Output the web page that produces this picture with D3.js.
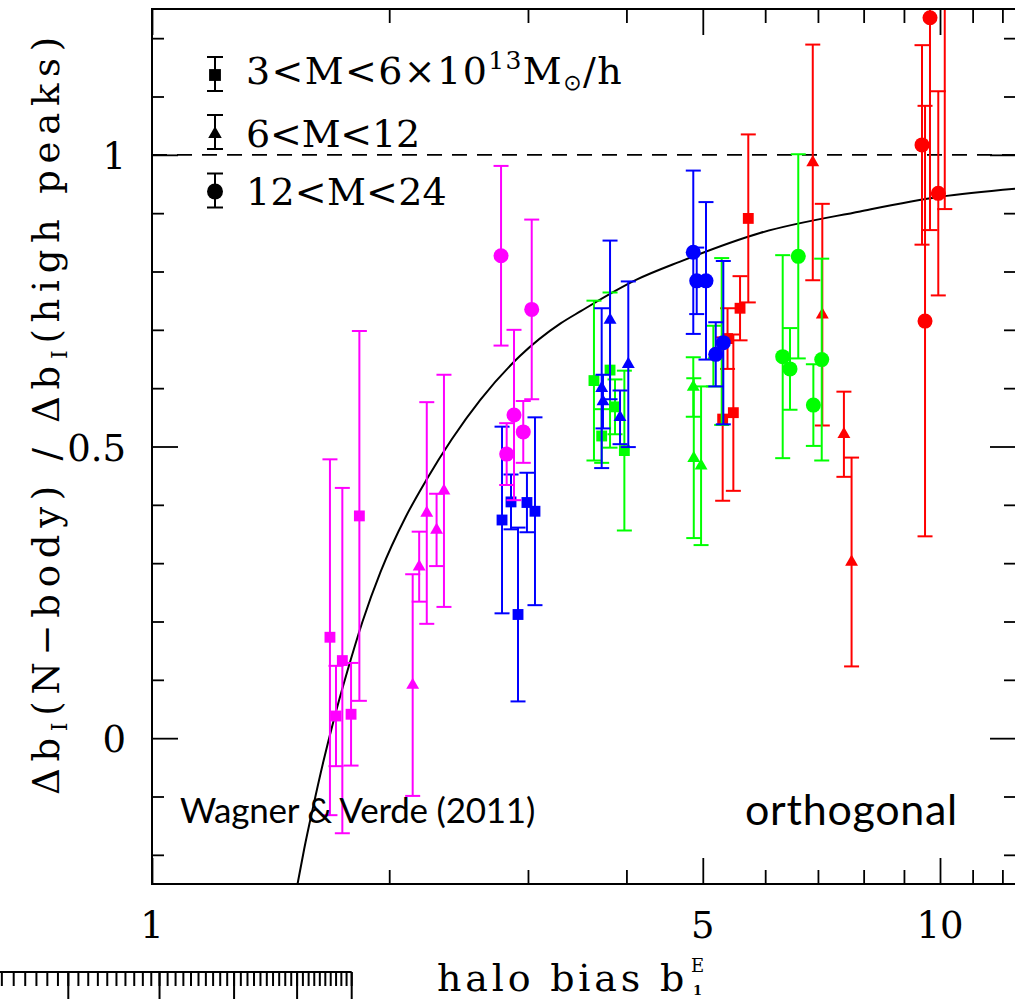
<!DOCTYPE html>
<html><head><meta charset="utf-8">
<script src="https://cdn.jsdelivr.net/npm/d3@7"></script>
<style>body{margin:0;background:#fff} svg{display:block}</style>
</head><body>
<svg id="c" width="1015" height="999"></svg>
<script>
// ---------------- DATA ----------------
// magenta
const magSqB = [1.682, 1.712, 1.744, 1.789, 1.833];
const magSqY = [0.173, 0.038, 0.133, 0.041, 0.381];
const magSqE = [0.305, 0.086, 0.296, 0.088, 0.317];
const magTrB = [2.142, 2.183, 2.232, 2.297, 2.347];
const magTrY = [0.091, 0.294, 0.386, 0.357, 0.424];
const magTrE = [0.190, 0.060, 0.190, 0.062, 0.199];
const magCiB = [2.773, 2.819, 2.880, 2.959, 3.033];
const magCiY = [0.827, 0.487, 0.554, 0.525, 0.735];
const magCiE = [0.154, 0.053, 0.146, 0.053, 0.154];
// blue
const bluSqB = [2.781, 2.855, 2.914, 2.991, 3.062];
const bluSqY = [0.374, 0.405, 0.212, 0.404, 0.389];
const bluSqE = [0.160, 0.047, 0.149, 0.051, 0.161];
const bluTrB = [3.721, 3.735, 3.813, 3.926, 4.022];
const bluTrY = [0.600, 0.577, 0.717, 0.550, 0.641];
const bluTrE = [0.137, 0.046, 0.136, 0.046, 0.142];
const bluCiB = [4.863, 4.912, 5.047, 5.193, 5.309];
const bluCiY = [0.833, 0.784, 0.784, 0.658, 0.678];
const bluCiE = [0.140, 0.057, 0.135, 0.055, 0.140];
// green
const grnSqB = [3.638, 3.721, 3.813, 3.869, 3.976];
const grnSqY = [0.613, 0.518, 0.631, 0.568, 0.493];
const grnSqE = [0.137, 0.046, 0.133, 0.047, 0.137];
const grnTrB = [4.863, 4.870, 4.975, 5.157, 5.284];
const grnTrY = [0.602, 0.480, 0.467, 0.655, 0.680];
const grnTrE = [0.051, 0.137, 0.136, 0.052, 0.143];
const grnCiB = [6.315, 6.451, 6.609, 6.907, 7.078];
const grnCiY = [0.654, 0.633, 0.826, 0.571, 0.649];
const grnCiE = [0.174, 0.070, 0.175, 0.070, 0.173];
// red
const redSqB = [5.299, 5.375, 5.467, 5.575, 5.711];
const redSqY = [0.547, 0.685, 0.558, 0.737, 0.891];
const redSqE = [0.140, 0.052, 0.134, 0.055, 0.144];
const redTrB = [6.895, 7.090, 7.552, 7.723];
const redTrY = [0.987, 0.726, 0.521, 0.302];
const redTrE = [0.202, 0.190, 0.073, 0.179];
const redCiB = [9.488, 9.572, 9.712, 9.950, 10.14];
const redCiY = [1.017, 0.715, 1.235, 0.934, 1.30];
const redCiE = [0.171, 0.369, 0.364, 0.175, 0.393];

// model curve
const curveB = [1.53, 1.56, 1.60, 1.65, 1.70, 1.77, 1.85, 1.95, 2.10, 2.23, 2.40, 2.61, 2.93, 3.30, 3.50, 4.12, 4.68, 5.91, 7.92, 10.0, 12.5];
const curveY = [-0.25, -0.19, -0.12, -0.04, 0.03, 0.115, 0.20, 0.285, 0.38, 0.443, 0.512, 0.58, 0.655, 0.711, 0.732, 0.786, 0.817, 0.866, 0.903, 0.928, 0.942];

// axes ticks
const xMajor = [1, 5, 10];
const xMinor = [2, 3, 4, 6, 7, 8, 9, 11, 12];
const xLabels = ["1", "5", "10"];
const yMajor = [0, 0.5, 1];
const yMinor = [-0.2, -0.1, 0.1, 0.2, 0.3, 0.4, 0.6, 0.7, 0.8, 0.9, 1.1, 1.2];
const yLabels = ["0", "0.5", "1"];
const refLine = 1;

const legendLabels = ["3<M<6×10", "6<M<12", "12<M<24"];
// ruler (edge of the panel below)
const rulerMajor = [4, 5, 6, 7, 8];
const rulerMinor = d3.range(34, 81).map(d => d / 10);

// ---------------- CHART ----------------
const svg = d3.select("#c");
const L = 152, R = 1016, T = 9, B = 884;
const x = d3.scaleLog().domain([1, 10]).range([152, 940]);
const y = d3.scaleLinear().domain([-0.25, 1.25]).range([884, 9]);
const serif = "'DejaVu Serif','Liberation Serif',serif";
const sans = "Lato,'Open Sans',sans-serif";

svg.append("defs").append("clipPath").attr("id", "clip")
  .append("rect").attr("x", L).attr("y", T).attr("width", R - L).attr("height", B - T);

function fit(sel, target) {
  const n = sel.node();
  const w = n.getComputedTextLength();
  const c = n.textContent.length;
  sel.attr("letter-spacing", (target - w) / c);
}

const plot = svg.append("g").attr("clip-path", "url(#clip)");

// reference dashed line
plot.append("line").attr("x1", L).attr("x2", R).attr("y1", y(refLine)).attr("y2", y(refLine))
  .attr("stroke", "#000").attr("stroke-width", 1.8).attr("stroke-dasharray", "15,10");

// curve
const curvePts = curveB.map((b, i) => [b, curveY[i]]);
plot.append("path").datum(curvePts)
  .attr("d", d3.line().x(d => x(d[0])).y(d => y(d[1])).curve(d3.curveMonotoneX))
  .attr("fill", "none").attr("stroke", "#000").attr("stroke-width", 2);

const shapes = {
  sq: d3.symbol().type(d3.symbolSquare).size(118)(),
  tr: d3.symbol().type(d3.symbolTriangle).size(72)(),
  ci: d3.symbol().type(d3.symbolCircle).size(177)()
};
const series = [
  {c: "#ff0000", s: "sq", b: redSqB, v: redSqY, e: redSqE},
  {c: "#ff0000", s: "tr", b: redTrB, v: redTrY, e: redTrE},
  {c: "#ff0000", s: "ci", b: redCiB, v: redCiY, e: redCiE},
  {c: "#00ff00", s: "sq", b: grnSqB, v: grnSqY, e: grnSqE},
  {c: "#00ff00", s: "tr", b: grnTrB, v: grnTrY, e: grnTrE},
  {c: "#00ff00", s: "ci", b: grnCiB, v: grnCiY, e: grnCiE},
  {c: "#0000ff", s: "sq", b: bluSqB, v: bluSqY, e: bluSqE},
  {c: "#0000ff", s: "tr", b: bluTrB, v: bluTrY, e: bluTrE},
  {c: "#0000ff", s: "ci", b: bluCiB, v: bluCiY, e: bluCiE},
  {c: "#ff00ff", s: "sq", b: magSqB, v: magSqY, e: magSqE},
  {c: "#ff00ff", s: "tr", b: magTrB, v: magTrY, e: magTrE},
  {c: "#ff00ff", s: "ci", b: magCiB, v: magCiY, e: magCiE}
];
const cap = 7.5;
series.forEach(sr => {
  const pts = sr.b.map((b, i) => ({b, v: sr.v[i], e: sr.e[i]}));
  const g = plot.append("g").attr("stroke", sr.c).attr("stroke-width", 2).attr("fill", "none");
  pts.forEach(p => {
    const px = x(p.b), y0 = y(p.v - p.e), y1 = y(p.v + p.e);
    g.append("line").attr("x1", px).attr("x2", px).attr("y1", y0).attr("y2", y1);
    g.append("line").attr("x1", px - cap).attr("x2", px + cap).attr("y1", y0).attr("y2", y0);
    g.append("line").attr("x1", px - cap).attr("x2", px + cap).attr("y1", y1).attr("y2", y1);
  });
  plot.append("g").selectAll("path").data(pts).join("path")
    .attr("d", shapes[sr.s]).attr("fill", sr.c)
    .attr("transform", p => `translate(${x(p.b)},${y(p.v)})`);
});

// frame
svg.append("rect").attr("x", L).attr("y", T).attr("width", R - L).attr("height", B - T)
  .attr("fill", "none").attr("stroke", "#000").attr("stroke-width", 2);

// ticks
function ticks(axis, vals, size, tr) {
  const g = svg.append("g").attr("transform", tr)
    .call(axis.tickValues(vals).tickSize(size).tickFormat(""));
  g.select(".domain").remove();
  g.selectAll("line").attr("stroke", "#000").attr("stroke-width", 1.8);
}
ticks(d3.axisTop(x), xMinor, 14, `translate(0,${B})`);
ticks(d3.axisTop(x), xMajor, 26, `translate(0,${B})`);
ticks(d3.axisBottom(x), xMinor, 14, `translate(0,${T})`);
ticks(d3.axisBottom(x), xMajor, 26, `translate(0,${T})`);
ticks(d3.axisRight(y), yMinor, 12, `translate(${L},0)`);
ticks(d3.axisRight(y), yMajor, 26, `translate(${L},0)`);
ticks(d3.axisLeft(y), yMinor, 12, `translate(${R},0)`);
ticks(d3.axisLeft(y), yMajor, 26, `translate(${R},0)`);

// tick labels
svg.append("g").selectAll("text").data(xMajor).join("text")
  .attr("x", d => x(d)).attr("y", 938).attr("text-anchor", "middle")
  .attr("font-family", serif).attr("font-size", 37).text((d, i) => xLabels[i]);
svg.append("g").selectAll("text").data(yMajor).join("text")
  .attr("x", 126).attr("y", d => y(d) + 14).attr("text-anchor", "end")
  .attr("font-family", serif).attr("font-size", 37).text((d, i) => yLabels[i]);

// x title
const xt = svg.append("text").attr("x", 437).attr("y", 991)
  .attr("font-family", serif).attr("font-size", 38).text("halo bias b");
fit(xt, 251);
svg.append("text").attr("x", 691).attr("y", 972).attr("font-family", serif).attr("font-size", 18).text("E");
svg.append("text").attr("x", 693).attr("y", 995).attr("font-family", serif).attr("font-size", 13)
  .attr("font-weight", "bold").text("1");

// y title
const yt = svg.append("text").attr("transform", "translate(59,795) rotate(-90)")
  .attr("font-family", serif).attr("font-size", 37);
yt.append("tspan").text("Δb");
yt.append("tspan").attr("font-size", 22).attr("dy", 8).text("I");
yt.append("tspan").attr("dy", -8).text("(N−body) / Δb");
yt.append("tspan").attr("font-size", 22).attr("dy", 8).text("I");
yt.append("tspan").attr("dy", -8).text("(high peaks)");
fit(yt, 765);

// legend
const legShapes = [
  d3.symbol().type(d3.symbolSquare).size(140)(),
  d3.symbol().type(d3.symbolTriangle).size(80)(),
  d3.symbol().type(d3.symbolCircle).size(200)()
];
const legY = [74, 132, 190.5];
const legBaseline = [84, 147, 205];
legY.forEach((ly, i) => {
  const g = svg.append("g").attr("stroke", "#000").attr("stroke-width", 2);
  g.append("line").attr("x1", 215).attr("x2", 215).attr("y1", ly - 17).attr("y2", ly + 17);
  g.append("line").attr("x1", 207).attr("x2", 223).attr("y1", ly - 17).attr("y2", ly - 17);
  g.append("line").attr("x1", 207).attr("x2", 223).attr("y1", ly + 17).attr("y2", ly + 17);
  svg.append("path").attr("d", legShapes[i]).attr("fill", "#000")
    .attr("transform", `translate(215,${ly + (i === 1 ? 2 : 1)})`);
});
const l1 = svg.append("text").attr("x", 246).attr("y", legBaseline[0])
  .attr("font-family", serif).attr("font-size", 38);
l1.append("tspan").text(legendLabels[0]);
l1.append("tspan").attr("font-size", 25).attr("dy", -15).text("13");
l1.append("tspan").attr("dy", 15).text("M");
l1.append("tspan").attr("font-size", 22).attr("dy", 6).attr("font-family", "'DejaVu Sans',sans-serif").text("⊙");
l1.append("tspan").attr("dy", -6).text("/h");
fit(l1, 377);
const l2 = svg.append("text").attr("x", 246).attr("y", legBaseline[1])
  .attr("font-family", serif).attr("font-size", 38).text(legendLabels[1]);
fit(l2, 174);
const l3 = svg.append("text").attr("x", 246).attr("y", legBaseline[2])
  .attr("font-family", serif).attr("font-size", 38).text(legendLabels[2]);
fit(l3, 201);

// annotations
const wv = svg.append("text").attr("x", 180).attr("y", 823)
  .attr("font-family", sans).attr("font-size", 35).text("Wagner & Verde (2011)");
fit(wv, 355);
const orth = svg.append("text").attr("x", 745).attr("y", 825)
  .attr("font-family", sans).attr("font-size", 43).text("orthogonal");
fit(orth, 213);

// ruler at bottom-left (edge of the panel below)
const rx = d3.scaleLog().domain([4, 8]).range([68.3, 351.7]);
const rg = svg.append("g").attr("stroke", "#000").attr("stroke-width", 2);
rg.append("line").attr("x1", 0).attr("x2", rx(8)).attr("y1", 972).attr("y2", 972);
rg.selectAll("line.mn").data(rulerMinor).join("line").attr("class", "mn")
  .attr("x1", d => rx(d)).attr("x2", d => rx(d)).attr("y1", 972).attr("y2", 986);
rg.selectAll("line.mj").data(rulerMajor).join("line").attr("class", "mj")
  .attr("x1", d => rx(d)).attr("x2", d => rx(d)).attr("y1", 972).attr("y2", 1000);
</script>
</body></html>
